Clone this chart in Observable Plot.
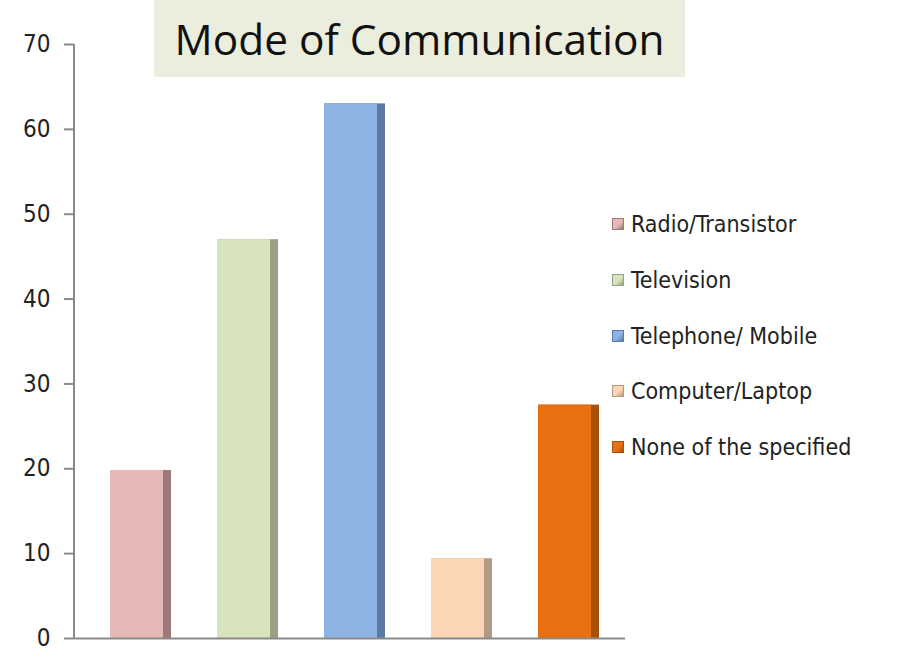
<!DOCTYPE html>
<html>
<head>
<meta charset="utf-8">
<script src="https://cdn.jsdelivr.net/npm/d3@7"></script>
<script src="https://cdn.jsdelivr.net/npm/@observablehq/plot@0.6"></script>
<style>
  html, body { margin: 0; padding: 0; background: #fff; }
  #wrap { position: relative; width: 924px; height: 663px; overflow: hidden; }
  #chart { position: absolute; left: 0; top: 0; }
  #title {
    position: absolute; left: 154px; top: 0; width: 531px; height: 77px;
    background: #ebeedd; display: flex; align-items: center; justify-content: center;
    font-family: "Open Sans", sans-serif; color: #111; white-space: nowrap;
  }
  #legend { position: absolute; left: 612px; top: 0; }
  .row { position: absolute; left: 0; display: flex; align-items: center; white-space: nowrap;
         font-family: "DejaVu Sans Condensed", "Liberation Sans Narrow", sans-serif; color: #222; }
  .sw { width: 12px; height: 12px; margin-right: 7px; box-sizing: border-box; flex: none; }
</style>
</head>
<body>
<div id="wrap">
  <div id="chart"></div>
  <div id="title"><span id="titleText">Mode of Communication</span></div>
  <div id="legend"></div>
</div>
<script>
const categories = ["Radio/Transistor", "Television", "Telephone/ Mobile", "Computer/Laptop", "None of the specified"];
const values = [19.8, 47, 63, 9.4, 27.5];
const frontColors = ["#e6b9b8", "#d8e4bc", "#8db3e2", "#fcd5b4", "#e8700f"];
const sideColors = ["#9d7a7a", "#98a085", "#5a7aa5", "#b29a84", "#a8500a"];
const yTicks = [0, 10, 20, 30, 40, 50, 60, 70];
const titleText = "Mode of Communication";

const data = categories.map((c, i) => ({cat: c, value: values[i], front: frontColors[i], side: sideColors[i]}));

const axisColor = "#8a8a8a";

const yAxisLine = (index, scales, values, dimensions) => {
  const line = document.createElementNS("http://www.w3.org/2000/svg", "line");
  const x = dimensions.marginLeft;
  line.setAttribute("x1", x);
  line.setAttribute("x2", x);
  line.setAttribute("y1", scales.y(yTicks[0]));
  line.setAttribute("y2", scales.y(yTicks[yTicks.length - 1]));
  line.setAttribute("stroke", axisColor);
  line.setAttribute("stroke-width", 2);
  return line;
};

const chart = Plot.plot({
  width: 924,
  height: 663,
  marginTop: 44,
  marginBottom: 25,
  marginLeft: 74,
  marginRight: 299,
  style: {background: "transparent", overflow: "visible"},
  x: {type: "band", domain: categories, range: [86.5, 622], paddingInner: 0.43, paddingOuter: 0.215, axis: null},
  y: {domain: [0, 70], axis: null},
  marks: [
    Plot.barY(data, {x: "cat", y: "value", fill: "side"}),
    Plot.barY(data, {x: "cat", y: "value", fill: "front", insetRight: 8}),
    Plot.ruleY([0], {stroke: axisColor, strokeWidth: 2}),
    yAxisLine,
    Plot.axisY(yTicks, {
      tickSize: 10, tickPadding: 14, stroke: axisColor, strokeWidth: 2,
      fontSize: 24, fill: "#222",
      fontFamily: "DejaVu Sans Condensed, Liberation Sans Narrow, sans-serif",
      tickFormat: d => String(d), label: null
    })
  ]
});
document.getElementById("chart").appendChild(chart);

// Title: fit to the reference width
const tspan = document.getElementById("titleText");
tspan.textContent = titleText;
tspan.style.fontSize = "48px";
const tw = tspan.getBoundingClientRect().width;
tspan.style.fontSize = (48 * 490 / tw).toFixed(2) + "px";

// Legend
const legend = document.getElementById("legend");
const rowTop = 224, rowStep = 55.8;
const spans = [];
categories.forEach((c, i) => {
  const row = document.createElement("div");
  row.className = "row";
  row.style.top = (rowTop + i * rowStep - 15) + "px";
  row.style.height = "30px";
  row.style.fontSize = "23px";
  const sw = document.createElement("div");
  sw.className = "sw";
  sw.style.background = `linear-gradient(135deg, ${frontColors[i]} 55%, ${sideColors[i]})`;
  sw.style.border = `1px solid ${sideColors[i]}`;
  const t = document.createElement("span");
  t.textContent = c;
  row.appendChild(sw);
  row.appendChild(t);
  legend.appendChild(row);
  spans.push(t);
});
// shrink legend font if the longest label would run past the right edge
const maxW = d3.max(spans, s => s.getBoundingClientRect().right);
if (maxW > 918) {
  const fs = 23 * (918 - 631) / (maxW - 631);
  spans.forEach(s => s.parentNode.style.fontSize = fs.toFixed(2) + "px");
}
</script>
</body>
</html>
